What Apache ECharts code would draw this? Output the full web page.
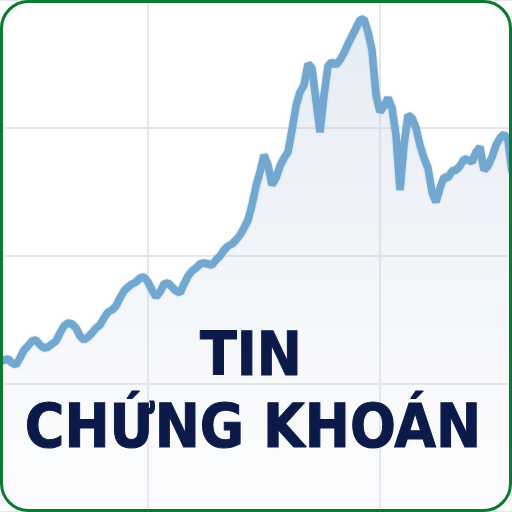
<!DOCTYPE html>
<html>
<head>
<meta charset="utf-8">
<script src="https://cdn.jsdelivr.net/npm/echarts@6/dist/echarts.min.js"></script>
<style>
html,body{margin:0;padding:0;background:#fff;}
#chart{width:512px;height:512px;}
</style>
</head>
<body>
<div id="chart"></div>
<script>
// price series sampled at uniform steps
var values = [150,152,153,149,147,154,162,166,171,172,167,164,165,168,171,179,186,189,188,184,
176,172,175,179,184,187,194,200,202,206,214,221,225,228,230,234,235,230,222,215,
220,228,229,225,221,219,228,236,241,244,248,249,248,247,252,256,262,266,268,272,
277,284,292,307,326,340,357,347,327,334,346,354,360,382,406,420,427,448,444,412,
380,417,446,450,447,452,459,468,476,484,492,493,480,462,417,400,406,414,404,377,
322,367,397,394,384,367,354,344,320,310,324,335,334,341,342,346,353,352,350,360,
365,342,346,355,367,374,378,372,340];
var categories = values.map(function(v,i){return String(i);});
var verticalLines = [37, 95];
var titleLines = ['TIN', 'CHỨNG KHOÁN'];

var chart = echarts.init(document.getElementById('chart'));
chart.setOption({
  animation:false,
  backgroundColor:'#ffffff',
  grid:{left:0,right:0,top:0,bottom:0},
  xAxis:{
    type:'category', data:categories, boundaryGap:false,
    axisLine:{show:false}, axisTick:{show:false}, axisLabel:{show:false},
    splitLine:{show:true, interval:function(i){return verticalLines.indexOf(i)>=0;},
      lineStyle:{color:'#e6e7ea', width:2}}
  },
  yAxis:{
    type:'value', min:0, max:512, interval:128,
    axisLine:{show:false}, axisTick:{show:false}, axisLabel:{show:false},
    splitLine:{show:true, lineStyle:{color:'#e6e7ea', width:2}}
  },
  series:[{
    type:'line', data:values, symbol:'none', smooth:false,
    lineStyle:{color:'#72a7d0', width:7.5, shadowColor:'rgba(114,167,208,0.6)', shadowBlur:2},
    areaStyle:{color:new echarts.graphic.LinearGradient(0,0,0,1,[
      {offset:0,color:'rgba(175,195,222,0.45)'},
      {offset:0.5,color:'rgba(200,212,230,0.35)'},
      {offset:1,color:'rgba(235,240,246,0.2)'}
    ])}
  }],
  graphic:[
    {type:'text', z:100, style:{x:251, y:359, text:titleLines[0], fill:'#0c1a4a', stroke:'#0c1a4a', lineWidth:1,
      font:'bold 60px "DejaVu Sans Condensed", "DejaVu Sans", sans-serif', align:'center', verticalAlign:'middle'}},
    {type:'text', z:100, style:{x:253, y:431, text:titleLines[1], fill:'#0c1a4a', stroke:'#0c1a4a', lineWidth:1,
      font:'bold 60px "DejaVu Sans Condensed", "DejaVu Sans", sans-serif', align:'center', verticalAlign:'middle'}},
    {type:'rect', z:101, shape:{x:1.5,y:1.5,width:509,height:509,r:27},
      style:{fill:null, stroke:'#0a7a30', lineWidth:3}}
  ]
});
</script>
</body>
</html>
